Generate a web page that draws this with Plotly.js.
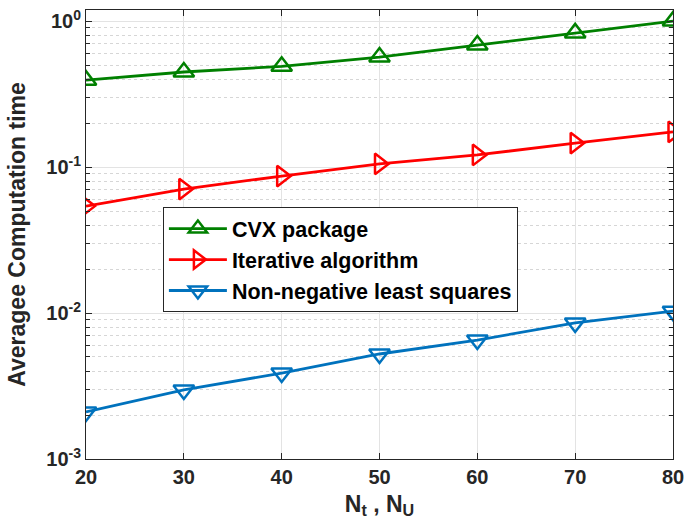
<!DOCTYPE html>
<html><head><meta charset="utf-8">
<script src="https://cdn.plot.ly/plotly-3.0.1.min.js"></script>
<style>body{margin:0;background:#fff}#c{width:684px;height:532px}</style>
</head><body><div id="c"></div>
<script>
const xVals = [20, 30, 40, 50, 60, 70, 80];
const cvx = [0.394, 0.448, 0.49, 0.567, 0.685, 0.83, 1.0];
const iterative = [0.054, 0.0707, 0.0868, 0.105, 0.121, 0.146, 0.174];
const nnls = [0.0021, 0.00297, 0.00388, 0.00524, 0.00653, 0.00855, 0.0103];
const seriesNames = ['CVX package', 'Iterative algorithm', 'Non-negative least squares'];
const yTickVals = [0.001, 0.01, 0.1, 1];
const yTickText = ['10<sup>-3</sup>', '10<sup>-2</sup>', '10<sup>-1</sup>', '10<sup>0</sup>'];
const yMinorVals = [0.002,0.003,0.004,0.005,0.006,0.007,0.008,0.009,
  0.02,0.03,0.04,0.05,0.06,0.07,0.08,0.09,
  0.2,0.3,0.4,0.5,0.6,0.7,0.8,0.9];
const xTickVals = [20, 30, 40, 50, 60, 70, 80];

const FAM = 'Liberation Sans, Arial, sans-serif';
const tickFont = {family: FAM, size: 20, color: '#262626', weight: 'bold'};
function tr(y, name, color, sym) {
  return {x: xVals, y: y, name: '<b>' + name + '</b>', type: 'scatter', mode: 'lines+markers',
    line: {color: color, width: 2.8},
    marker: {symbol: sym, size: 18, color: color, line: {color: color, width: 2.5}}};
}
const data = [
  tr(cvx, seriesNames[0], '#008000', 'triangle-up-open'),
  tr(iterative, seriesNames[1], '#ff0000', 'triangle-right-open'),
  tr(nnls, seriesNames[2], '#0072bd', 'triangle-down-open')
];
const layout = {
  width: 684, height: 532,
  margin: {l: 86, r: 11, t: 10, b: 73},
  paper_bgcolor: '#fff', plot_bgcolor: '#fff',
  font: tickFont,
  showlegend: true,
  legend: {x: 0.131, y: 0.561, xanchor: 'left', yanchor: 'top',
    bgcolor: '#fff', bordercolor: '#262626', borderwidth: 1,
    font: {family: FAM, size: 21.5, color: '#000'},
    tracegroupgap: 0, itemwidth: 58},
  xaxis: {range: [20, 80], tickvals: xTickVals, ticks: 'inside', ticklen: 6,
    tickcolor: '#262626', showline: true, linecolor: '#262626', linewidth: 1, mirror: 'ticks',
    showgrid: true, gridcolor: '#e3e3e3', gridwidth: 1, zeroline: false,
    tickfont: tickFont, ticklabeloverflow: 'allow',
    title: {text: '<b>N<sub>t</sub> , N<sub>U</sub></b>', font: {family: FAM, size: 23, color: '#262626'}, standoff: 8}},
  yaxis: {type: 'log', range: [-3, 0.076], tickmode: 'array', tickvals: yTickVals, ticktext: yTickText,
    ticks: 'inside', ticklen: 6, tickcolor: '#262626',
    showline: true, linecolor: '#262626', linewidth: 1, mirror: 'ticks',
    showgrid: true, gridcolor: '#e3e3e3', gridwidth: 1, zeroline: false,
    tickfont: tickFont, ticklabeloverflow: 'allow',
    minor: {tickmode: 'array', tickvals: yMinorVals, ticks: 'inside', ticklen: 4, tickcolor: '#262626', showgrid: true,
      gridcolor: '#d6d6d6', griddash: 'dot', gridwidth: 1},
    title: {text: '<b>Averagee Computation time</b>', font: {family: FAM, size: 23, color: '#262626'}, standoff: 14}}
};
Plotly.newPlot('c', data, layout, {displayModeBar: false, staticPlot: true});
</script></body></html>
